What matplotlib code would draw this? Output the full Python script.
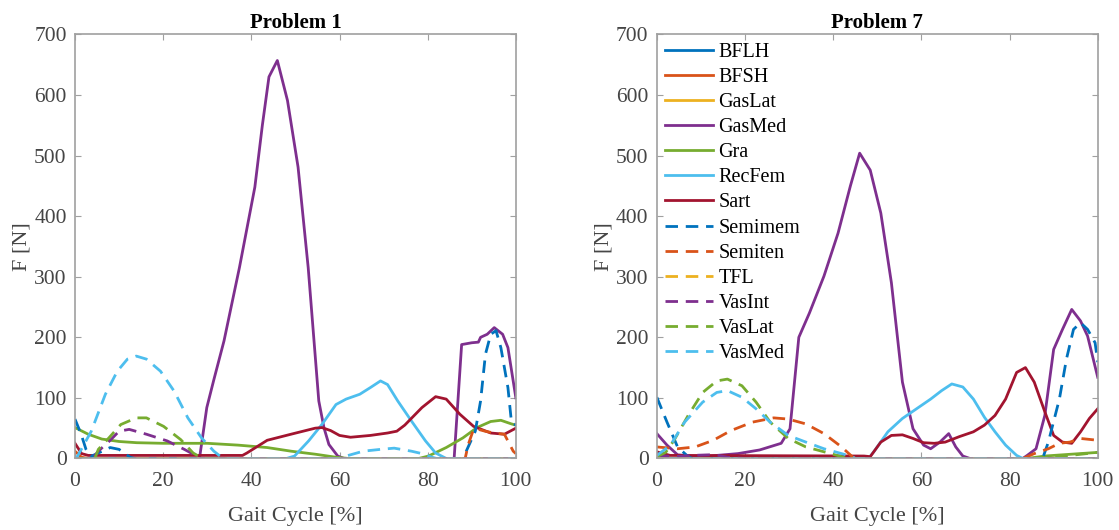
import matplotlib
matplotlib.use("Agg")
from matplotlib import pyplot as plt

plt.rcParams["font.family"] = ["Liberation Serif", "DejaVu Serif"]

MUSCLES = ["BFLH", "BFSH", "GasLat", "GasMed", "Gra", "RecFem", "Sart",
           "Semimem", "Semiten", "TFL", "VasInt", "VasLat", "VasMed"]
COLORS = ["#0072BD", "#D95319", "#EDB120", "#7E2F8E", "#77AC30", "#4DBEEE",
          "#A2142F"]

ZERO = [(0, 0), (100, 0)]

# Problem 1 muscle forces, (gait cycle %, force N)
P1_BFLH = ZERO
P1_BFSH = [(0, 12), (1.5, 2), (3, 0), (100, 0)]
P1_GASLAT = ZERO
P1_GASMED = [(0, 0), (28, 0), (28.3, 3), (29.9, 84), (31.5, 130), (33.8, 194),
             (37.3, 315), (40.8, 448), (42.5, 550), (44, 630), (45.9, 657),
             (48.2, 591), (50.6, 481), (52.9, 315), (55.3, 95), (56.5, 50),
             (57.6, 23), (59.6, 4), (61, 0), (86, 0), (87.7, 188), (90, 191),
             (91.5, 192), (92, 200), (93.5, 205), (95.1, 216), (97, 205),
             (98.2, 183), (100, 100)]
P1_GRA = [(0, 51), (3, 40), (6.1, 32), (10, 28), (14, 26), (20, 25), (30, 25),
          (37, 22), (43.6, 18), (49, 12), (54.5, 7), (59.2, 2), (62, 0),
          (78, 0), (80.2, 4), (84.2, 18), (88, 34), (91.2, 51), (94.3, 61),
          (96.6, 63), (99, 57), (100, 55)]
P1_RECFEM = [(0, 0), (48, 0), (49.8, 4), (53, 29), (56, 56), (59.2, 89),
             (61.5, 98), (64.6, 106), (67, 117), (69.3, 128), (70.9, 122),
             (73.2, 95), (76.3, 62), (79.5, 29), (81.8, 9), (84.2, 0), (100, 0)]
P1_SART = [(0, 25), (1.5, 8), (3, 5), (38, 5), (39, 9), (43.6, 30), (49, 40),
           (54.5, 50), (56, 51), (58, 46), (60, 38), (62.5, 35), (67, 38),
           (70.9, 42), (73, 45), (74.8, 55), (78.7, 84), (81.8, 102),
           (84.2, 98), (87.3, 73), (90.4, 53), (94.3, 42), (97.4, 40),
           (100, 50)]
P1_SEMIMEM = [(0, 65), (1.4, 40), (2.5, 15), (3.5, 3), (5, 8), (8, 18),
              (10, 15), (12.5, 2), (13.5, 0), (88, 0), (90.8, 45), (92, 95),
              (93.1, 172), (94.3, 205), (95.5, 211), (96.6, 183), (98.2, 117),
              (99, 60), (100, 55)]
P1_SEMITEN = [(0, 0), (88.5, 0), (89.2, 23), (90.4, 48), (91.5, 48), (93, 45),
              (95, 42), (97.4, 40), (99.4, 12), (100, 8)]
P1_TFL = ZERO
P1_VASINT = [(0, 0), (4, 0), (5.3, 12), (8, 30), (10, 45), (12.3, 48),
             (16.2, 40), (20.9, 29), (24.8, 15), (27.6, 4), (28.5, 0), (100, 0)]
P1_VASLAT = [(0, 0), (4.5, 0), (5.3, 15), (7.7, 34), (10.4, 56), (13.9, 67),
             (16.2, 67), (20.1, 53), (24, 31), (26.8, 9), (28.7, 1), (30, 0),
             (100, 0)]
P1_VASMED = [(0, 0), (0.6, 4), (3.7, 45), (6.9, 106), (9.6, 144), (11.9, 164),
             (13.9, 169), (16.2, 164), (19.4, 144), (22.5, 111), (25.6, 67),
             (28.7, 34), (31.5, 12), (33.4, 1), (34, 0), (60, 0), (61.5, 4),
             (65.4, 12), (69.3, 15), (72.4, 17), (76.3, 12), (78.7, 8), (81, 2),
             (82, 0), (100, 0)]

# Problem 7 muscle forces
P7_BFLH = ZERO
P7_BFSH = [(0, 8), (3, 0), (100, 0)]
P7_GASLAT = ZERO
P7_GASMED = [(0, 41), (2.3, 22), (4.7, 6), (8, 4), (12, 4), (18.4, 8),
             (23.3, 14), (28.2, 25), (30.2, 49), (32.2, 200), (34.6, 240),
             (37.9, 301), (41.1, 372), (43.9, 450), (46, 504), (48.4, 476),
             (50.8, 405), (53.2, 290), (55.7, 126), (58.1, 49), (60.5, 22),
             (62.1, 16), (64.2, 27), (66.2, 41), (67.8, 19), (69.4, 4), (71, 0),
             (83, 0), (84, 5), (86, 16), (88, 71), (90, 180), (92, 213),
             (94.1, 246), (96.1, 227), (97.7, 202), (100, 134)]
P7_GRA = [(0, 0), (84, 0), (88, 4), (94, 7), (100, 10)]
P7_RECFEM = [(0, 5), (3, 0), (48, 0), (49.2, 11), (52.4, 44), (55.7, 66),
             (58.9, 82), (62.1, 98), (64.6, 112), (66.9, 123), (69.4, 118),
             (71.8, 98), (74.3, 68), (76.7, 44), (79.1, 22), (81.6, 5), (83, 0),
             (100, 0)]
P7_SART = [(0, 11), (3, 5), (47, 4), (48.4, 3), (50.8, 27), (53.2, 38),
           (55.7, 39), (58.1, 33), (60.5, 26), (62.9, 25), (65.4, 27),
           (68.6, 36), (71.8, 44), (74.3, 55), (76.7, 71), (79.1, 98),
           (81.6, 142), (83.6, 150), (85.6, 126), (88, 77), (90, 38), (92, 27),
           (94.1, 25), (96.1, 44), (98.1, 66), (100, 82)]
P7_SEMIMEM = [(0, 101), (2.3, 60), (4.7, 19), (7.1, 3), (8, 0), (87.5, 0),
              (88.8, 27), (91.3, 98), (92.9, 164), (94.5, 213), (96.1, 224),
              (97.7, 213), (99.4, 191), (100, 159)]
P7_SEMITEN = [(0, 19), (4.7, 16), (8.7, 19), (12.8, 30), (16.8, 46),
              (21.7, 60), (26.5, 67), (29.8, 65), (33.8, 57), (37.9, 41),
              (41.9, 19), (44.3, 3), (45, 0), (83, 0), (85.6, 8), (88.8, 16),
              (91.3, 25), (93.7, 27), (96.1, 33), (100, 30)]
P7_TFL = ZERO
P7_VASINT = [(0, 5), (4, 3), (8, 5), (12, 6), (14, 5), (16, 2), (20, 0),
             (100, 0)]
P7_VASLAT = [(0, 3), (2, 10), (3.9, 30), (7.1, 71), (10.4, 109), (13.6, 128),
             (16, 131), (19.3, 120), (22.5, 93), (25.7, 60), (29.8, 33),
             (33.8, 19), (37.9, 11), (41.9, 3), (43, 0), (88, 0), (95, 6),
             (100, 10)]
P7_VASMED = [(0, 5), (3.1, 22), (6.3, 60), (10.4, 93), (13.6, 109), (16, 112),
             (19.3, 101), (22.5, 82), (25.7, 60), (29.8, 38), (33.8, 27),
             (37.9, 16), (41.9, 8), (44.3, 3), (45, 0), (100, 0)]

PROBLEM1 = [P1_BFLH, P1_BFSH, P1_GASLAT, P1_GASMED, P1_GRA, P1_RECFEM, P1_SART,
            P1_SEMIMEM, P1_SEMITEN, P1_TFL, P1_VASINT, P1_VASLAT, P1_VASMED]
PROBLEM7 = [P7_BFLH, P7_BFSH, P7_GASLAT, P7_GASMED, P7_GRA, P7_RECFEM, P7_SART,
            P7_SEMIMEM, P7_SEMITEN, P7_TFL, P7_VASINT, P7_VASLAT, P7_VASMED]

AXIS_GRAY = "#a0a0a0"
TEXT_GRAY = "#454545"


def plot_problem(ax, series, title, ylabel=True):
    for i, (name, pts) in enumerate(zip(MUSCLES, series)):
        xs = [p[0] for p in pts]
        ys = [p[1] for p in pts]
        style = dict(color=COLORS[i % 7], lw=2.0, label=name)
        if i >= 7:
            style["dashes"] = (4.5, 2.8)
        ax.plot(xs, ys, **style)

    ax.set_xlim(0, 100)
    ax.set_ylim(0, 700)
    ax.set_xticks(range(0, 101, 20))
    ax.set_yticks(range(0, 701, 100))
    ax.tick_params(direction="in", top=True, right=True, length=4,
                   color=AXIS_GRAY, labelcolor=TEXT_GRAY, labelsize=15.5)
    ax.tick_params(axis="x", pad=10)
    ax.tick_params(axis="y", pad=6)
    for sp in ax.spines.values():
        sp.set_color(AXIS_GRAY)
        sp.set_linewidth(1.2)
    ax.set_title(title, fontsize=15, fontweight="bold", pad=5)
    ax.set_xlabel("Gait Cycle [%]", fontsize=16, color=TEXT_GRAY, labelpad=11)
    if ylabel:
        ax.set_ylabel("F [N]", fontsize=16, color=TEXT_GRAY, labelpad=2)


fig = plt.figure(figsize=(11.19, 5.30), dpi=100)
ax1 = fig.add_axes([0.067, 0.135, 0.394, 0.800])
ax2 = fig.add_axes([0.587, 0.135, 0.394, 0.800])

plot_problem(ax1, PROBLEM1, "Problem 1")
plot_problem(ax2, PROBLEM7, "Problem 7")

ax2.legend(loc="upper left", frameon=False, fontsize=14.5, handlelength=2.4,
           handletextpad=0.25, labelspacing=0.3, borderaxespad=0.15,
           borderpad=0.25)

fig.savefig("out.png", dpi=100)
